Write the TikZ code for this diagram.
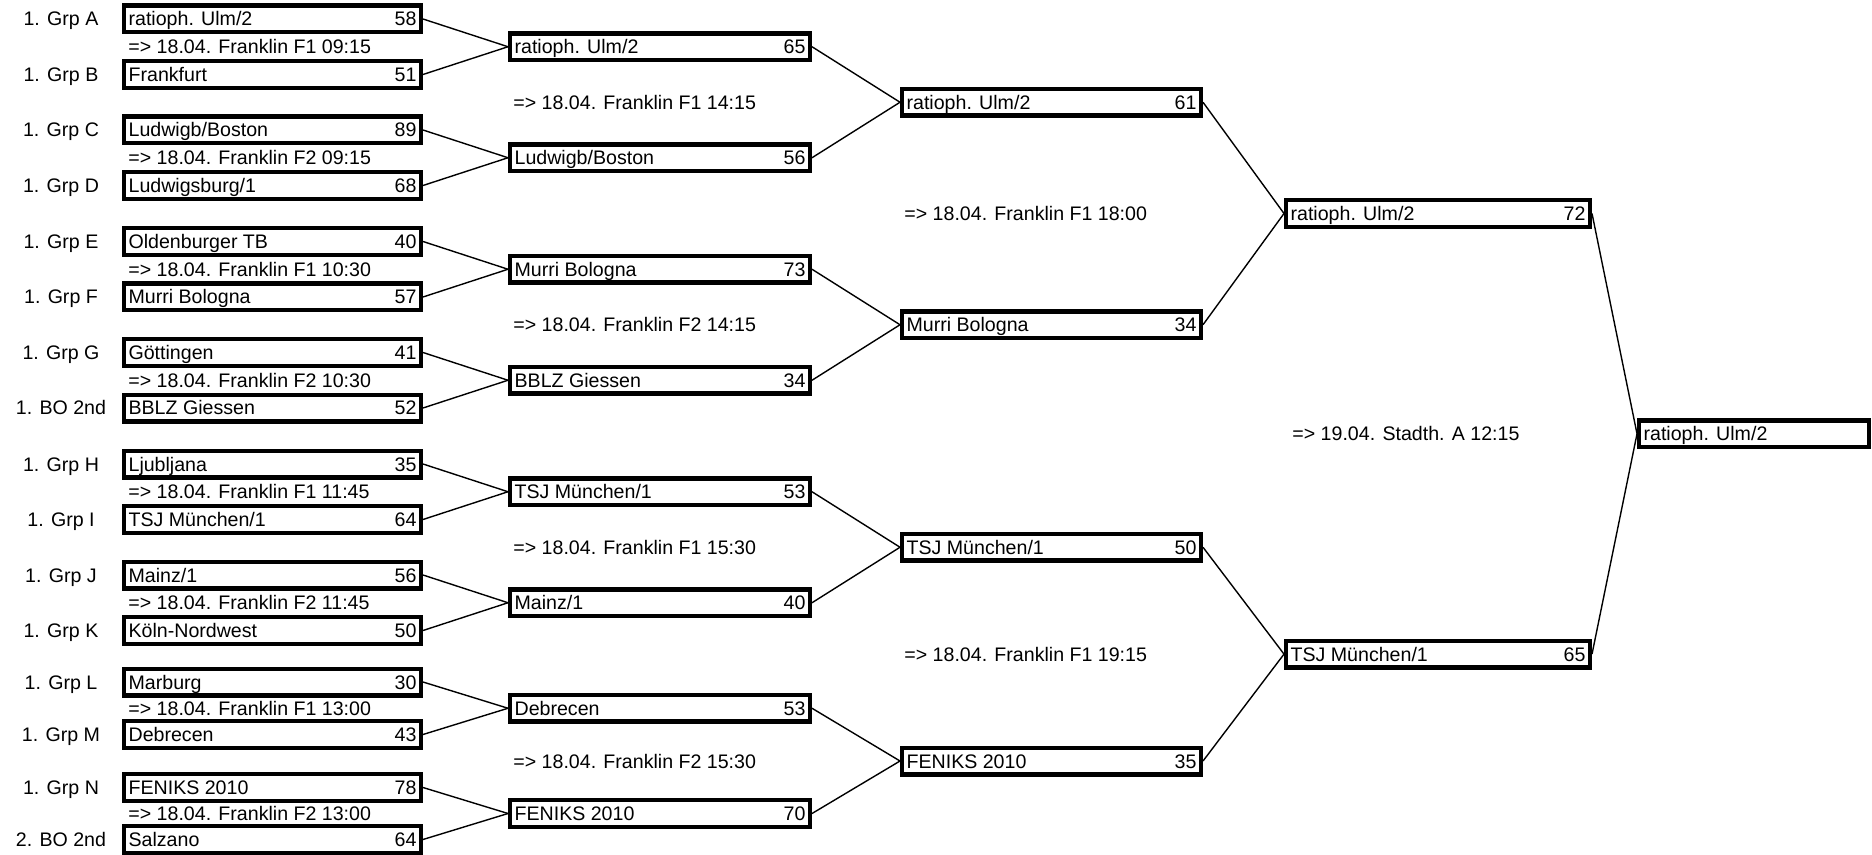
\documentclass[tikz,border=0pt]{standalone}
\usepackage{fontspec}
\setmainfont{Liberation Sans}
\newcommand\teamline[2]{\hbox to \dimexpr\pgfkeysvalueof{/pgf/minimum width}-4.4pt\relax{#1\hfill#2}}
\begin{document}
\begin{tikzpicture}[x=0.5pt,y=-0.5pt,
  every node/.style={font=\fontsize{9.8pt}{11pt}\selectfont},
  tb/.style={draw, line width=2.2pt, rectangle, inner sep=0pt, minimum height=13.3pt, text height=8pt, text depth=1pt},
  w1/.style={tb, minimum width=148.3pt},
  w2/.style={tb, minimum width=149.8pt},
  w3/.style={tb, minimum width=149.3pt},
  w4/.style={tb, minimum width=151.8pt},
  wf/.style={tb, minimum width=114.8pt},
  lbl/.style={inner sep=0pt, text height=8pt, text depth=1pt},
  datetxt/.style={lbl, anchor=west},
  conn/.style={line width=0.7pt}]
\useasboundingbox (0,0) rectangle (1872,855);

% Round 1
\node[w1] (a0)  at (272.5,19)    {\teamline{ratioph. Ulm/2}{58}};
\node[w1] (a1)  at (272.5,74.5)  {\teamline{Frankfurt}{51}};
\node[w1] (a2)  at (272.5,130)   {\teamline{Ludwigb/Boston}{89}};
\node[w1] (a3)  at (272.5,185.5) {\teamline{Ludwigsburg/1}{68}};
\node[w1] (a4)  at (272.5,241.5) {\teamline{Oldenburger TB}{40}};
\node[w1] (a5)  at (272.5,297)   {\teamline{Murri Bologna}{57}};
\node[w1] (a6)  at (272.5,352.5) {\teamline{Göttingen}{41}};
\node[w1] (a7)  at (272.5,408)   {\teamline{BBLZ Giessen}{52}};
\node[w1] (a8)  at (272.5,464)   {\teamline{Ljubljana}{35}};
\node[w1] (a9)  at (272.5,519.5) {\teamline{TSJ München/1}{64}};
\node[w1] (a10) at (272.5,575)   {\teamline{Mainz/1}{56}};
\node[w1] (a11) at (272.5,630.5) {\teamline{Köln-Nordwest}{50}};
\node[w1] (a12) at (272.5,682)   {\teamline{Marburg}{30}};
\node[w1] (a13) at (272.5,734.5) {\teamline{Debrecen}{43}};
\node[w1] (a14) at (272.5,787.5) {\teamline{FENIKS 2010}{78}};
\node[w1] (a15) at (272.5,839.5) {\teamline{Salzano}{64}};

% Seeds
\node[lbl] (l0)  at (61,19)    {1. Grp A};
\node[lbl] (l1)  at (61,74.5)  {1. Grp B};
\node[lbl] (l2)  at (61,130)   {1. Grp C};
\node[lbl] (l3)  at (61,185.5) {1. Grp D};
\node[lbl] (l4)  at (61,241.5) {1. Grp E};
\node[lbl] (l5)  at (61,297)   {1. Grp F};
\node[lbl] (l6)  at (61,352.5) {1. Grp G};
\node[lbl] (l7)  at (61,408)   {1. BO 2nd};
\node[lbl] (l8)  at (61,464)   {1. Grp H};
\node[lbl] (l9)  at (61,519.5) {1. Grp I};
\node[lbl] (l10) at (61,575)   {1. Grp J};
\node[lbl] (l11) at (61,630.5) {1. Grp K};
\node[lbl] (l12) at (61,682)   {1. Grp L};
\node[lbl] (l13) at (61,734.5) {1. Grp M};
\node[lbl] (l14) at (61,787.5) {1. Grp N};
\node[lbl] (l15) at (61,839.5) {2. BO 2nd};

% Round 1 schedule
\node[datetxt] (t0) at (128,46.75)  {=> 18.04. Franklin F1 09:15};
\node[datetxt] (t1) at (128,157.75) {=> 18.04. Franklin F2 09:15};
\node[datetxt] (t2) at (128,269.25) {=> 18.04. Franklin F1 10:30};
\node[datetxt] (t3) at (128,380.25) {=> 18.04. Franklin F2 10:30};
\node[datetxt] (t4) at (128,491.75) {=> 18.04. Franklin F1 11:45};
\node[datetxt] (t5) at (128,602.75) {=> 18.04. Franklin F2 11:45};
\node[datetxt] (t6) at (128,708.25) {=> 18.04. Franklin F1 13:00};
\node[datetxt] (t7) at (128,813.5)  {=> 18.04. Franklin F2 13:00};

% Round 2
\node[w2] (b0) at (660,46.75)  {\teamline{ratioph. Ulm/2}{65}};
\node[w2] (b1) at (660,157.75) {\teamline{Ludwigb/Boston}{56}};
\node[w2] (b2) at (660,269.25) {\teamline{Murri Bologna}{73}};
\node[w2] (b3) at (660,380.25) {\teamline{BBLZ Giessen}{34}};
\node[w2] (b4) at (660,491.75) {\teamline{TSJ München/1}{53}};
\node[w2] (b5) at (660,602.75) {\teamline{Mainz/1}{40}};
\node[w2] (b6) at (660,708.25) {\teamline{Debrecen}{53}};
\node[w2] (b7) at (660,813.5)  {\teamline{FENIKS 2010}{70}};

\node[datetxt] (u0) at (513,102.25) {=> 18.04. Franklin F1 14:15};
\node[datetxt] (u1) at (513,324.75) {=> 18.04. Franklin F2 14:15};
\node[datetxt] (u2) at (513,547.25) {=> 18.04. Franklin F1 15:30};
\node[datetxt] (u3) at (513,761)    {=> 18.04. Franklin F2 15:30};

% Round 3
\node[w3] (c0) at (1051.5,102.25) {\teamline{ratioph. Ulm/2}{61}};
\node[w3] (c1) at (1051.5,324.75) {\teamline{Murri Bologna}{34}};
\node[w3] (c2) at (1051.5,547.25) {\teamline{TSJ München/1}{50}};
\node[w3] (c3) at (1051.5,761)    {\teamline{FENIKS 2010}{35}};

\node[datetxt] (v0) at (904,213.5) {=> 18.04. Franklin F1 18:00};
\node[datetxt] (v1) at (904,654.1) {=> 18.04. Franklin F1 19:15};

% Round 4
\node[w4] (d0) at (1438,213.5) {\teamline{ratioph. Ulm/2}{72}};
\node[w4] (d1) at (1438,654.1) {\teamline{TSJ München/1}{65}};

\node[datetxt] (w0) at (1292,433.8) {=> 19.04. Stadth. A 12:15};

% Final
\node[wf] (f) at (1754,433.8) {\teamline{ratioph. Ulm/2}{}};

% Connectors
\foreach \i in {0,...,7} {
  \pgfmathtruncatemacro\j{2*\i}
  \pgfmathtruncatemacro\k{2*\i+1}
  \draw[conn] (a\j.east) -- (b\i.west);
  \draw[conn] (a\k.east) -- (b\i.west);
}
\foreach \i in {0,...,3} {
  \pgfmathtruncatemacro\j{2*\i}
  \pgfmathtruncatemacro\k{2*\i+1}
  \draw[conn] (b\j.east) -- (c\i.west);
  \draw[conn] (b\k.east) -- (c\i.west);
}
\draw[conn] (c0.east) -- (d0.west);
\draw[conn] (c1.east) -- (d0.west);
\draw[conn] (c2.east) -- (d1.west);
\draw[conn] (c3.east) -- (d1.west);
\draw[conn] (d0.east) -- (f.west);
\draw[conn] (d1.east) -- (f.west);
\end{tikzpicture}
\end{document}
